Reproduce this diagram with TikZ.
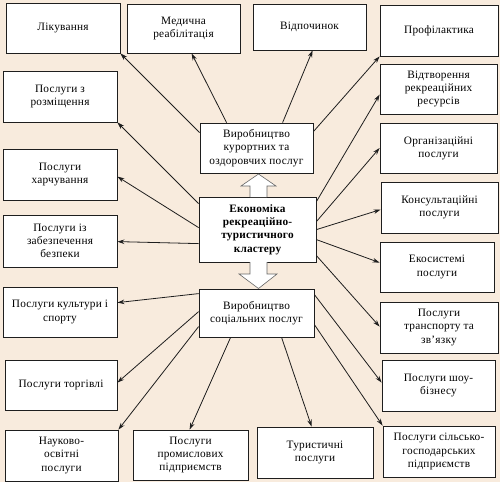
\documentclass[tikz,border=0pt]{standalone}
\usepackage{fontspec}
\setmainfont{Liberation Serif}[LetterSpace=2]
\usetikzlibrary{arrows.meta,calc}
\definecolor{bgbeige}{RGB}{248,235,221}
\definecolor{linegray}{RGB}{30,30,30}
\tikzset{
  box/.style={draw=linegray, line width=0.8pt, fill=white, inner sep=0pt, align=center,
    font=\fontsize{11.3}{13.2}\selectfont},
  arr/.style={draw=linegray, line width=0.8pt, -{Stealth[length=7pt,width=4.5pt]}},
  blockarrow/.style={draw=gray!80!black, line width=0.6pt, fill=white}
}
\begin{document}
\begin{tikzpicture}[x=1pt,y=-1pt]
\fill[bgbeige] (0,0) rectangle (500,482);
\useasboundingbox (0,0) rectangle (500,482);

% top row
\node[box, minimum width=114pt, minimum height=50pt] (lik) at (63,28) {Лікування};
\node[box, minimum width=113pt, minimum height=49pt] (med) at (183.5,28.5) {Медична\\реабілітація};
\node[box, minimum width=113pt, minimum height=46pt] (vid) at (309.5,27) {Відпочинок};
\node[box, minimum width=118pt, minimum height=51pt] (prof) at (439,30.5) {Профілактика};

% left column
\node[box, minimum width=114pt, minimum height=51pt] (rozm) at (60,96.5) {Послуги з\\розміщення};
\node[box, minimum width=114pt, minimum height=51pt] (harch) at (60,174.5) {Послуги\\харчування};
\node[box, minimum width=114pt, minimum height=52pt] (bezp) at (60,241) {Послуги із\\забезпечення\\безпеки};
\node[box, minimum width=114pt, minimum height=50pt] (kult) at (60,312) {Послуги культури і\\спорту};
\node[box, minimum width=112pt, minimum height=50pt] (torg) at (61,385) {Послуги торгівлі};
\node[box, minimum width=113pt, minimum height=51pt] (nauk) at (61.5,455.5) {Науково-\\освітні\\послуги};

% bottom row
\node[box, minimum width=115pt, minimum height=50pt] (prom) at (190.5,455) {Послуги\\промислових\\підприємств};
\node[box, minimum width=116pt, minimum height=51pt] (tur) at (315,452.5) {Туристичні\\послуги};

% right column
\node[box, minimum width=117pt, minimum height=50pt] (vidtv) at (438.5,89) {Відтворення\\рекреаційних\\ресурсів};
\node[box, minimum width=117pt, minimum height=50pt] (org) at (438.5,148) {Організаційні\\послуги};
\node[box, minimum width=117pt, minimum height=51pt] (kons) at (439.5,207.5) {Консультаційні\\послуги};
\node[box, minimum width=114pt, minimum height=50pt] (eko) at (437,267) {Екосистемі\\послуги};
\node[box, minimum width=118pt, minimum height=51pt] (trans) at (439,327.5) {Послуги\\транспорту та\\зв’язку};
\node[box, minimum width=113pt, minimum height=51pt] (shou) at (438.5,385.5) {Послуги шоу-\\бізнесу};
\node[box, minimum width=112pt, minimum height=51pt] (sil) at (439,451.5) {Послуги сільсько-\\господарських\\підприємств};

% centre
\node[box, minimum width=113pt, minimum height=50pt] (kur) at (256.5,148) {Виробництво\\курортних та\\оздоровчих послуг};
\node[box, minimum width=117pt, minimum height=65pt, font=\fontsize{11.3}{13.3}\selectfont\bfseries] (econ) at (257.5,229.5) {Економіка\\рекреаційно-\\туристичного\\кластеру};
\node[box, minimum width=115pt, minimum height=48pt] (soc) at (256.5,313) {Виробництво\\соціальних послуг};

% block arrows
\draw[blockarrow] (250,197) -- (250,186) -- (241,186) -- (258.5,174) -- (276,186) -- (267,186) -- (267,197);
\draw[blockarrow] (250,262) -- (250,274) -- (239,274) -- (258.5,288.5) -- (277,274) -- (267,274) -- (267,262);

% arrows from kur
\draw[arr] ([yshift=-10pt]kur.north west) -- (lik.south east);
\draw[arr] ([xshift=27pt]kur.north west) -- ([xshift=65pt]med.south west);
\draw[arr] ([xshift=83pt]kur.north west) -- ([xshift=60pt]vid.south west);
\draw[arr] ([yshift=-9pt]kur.north east) -- (prof.south west);

% arrows from econ (left)
\draw[arr] ([yshift=-7pt]econ.north west) -- (rozm.south east);
\draw[arr] ([yshift=-31pt]econ.north west) -- ([yshift=-28pt]harch.north east);
\draw[arr] ([yshift=-47pt]econ.north west) -- ([yshift=-27pt]bezp.north east);

% arrows from econ (right)
\draw[arr] ([yshift=-5pt]econ.north east) -- ([yshift=-31pt]vidtv.north west);
\draw[arr] ([yshift=-25pt]econ.north east) -- (org.west);
\draw[arr] ([yshift=-33pt]econ.north east) -- ([yshift=-28pt]kons.north west);
\draw[arr] ([yshift=-43pt]econ.north east) -- ([yshift=-21pt]eko.north west);
\draw[arr] ([yshift=-59pt]econ.north east) -- ([yshift=-25pt]trans.north west);

% arrows from soc
\draw[arr] ([yshift=-5pt]soc.north west) -- ([yshift=-16pt]kult.north east);
\draw[arr] ([yshift=-23pt]soc.north west) -- ([yshift=-23pt]torg.north east);
\draw[arr] ([yshift=-38pt]soc.north west) -- (nauk.north east);
\draw[arr] ([xshift=32pt]soc.south west) -- ([xshift=57pt]prom.north west);
\draw[arr] ([xshift=83pt]soc.south west) -- ([xshift=55pt]tur.north west);
\draw[arr] ([yshift=-6pt]soc.north east) -- ([yshift=-23pt]shou.north west);
\draw[arr] ([yshift=-36pt]soc.north east) -- (sil.north west);
\end{tikzpicture}
\end{document}
